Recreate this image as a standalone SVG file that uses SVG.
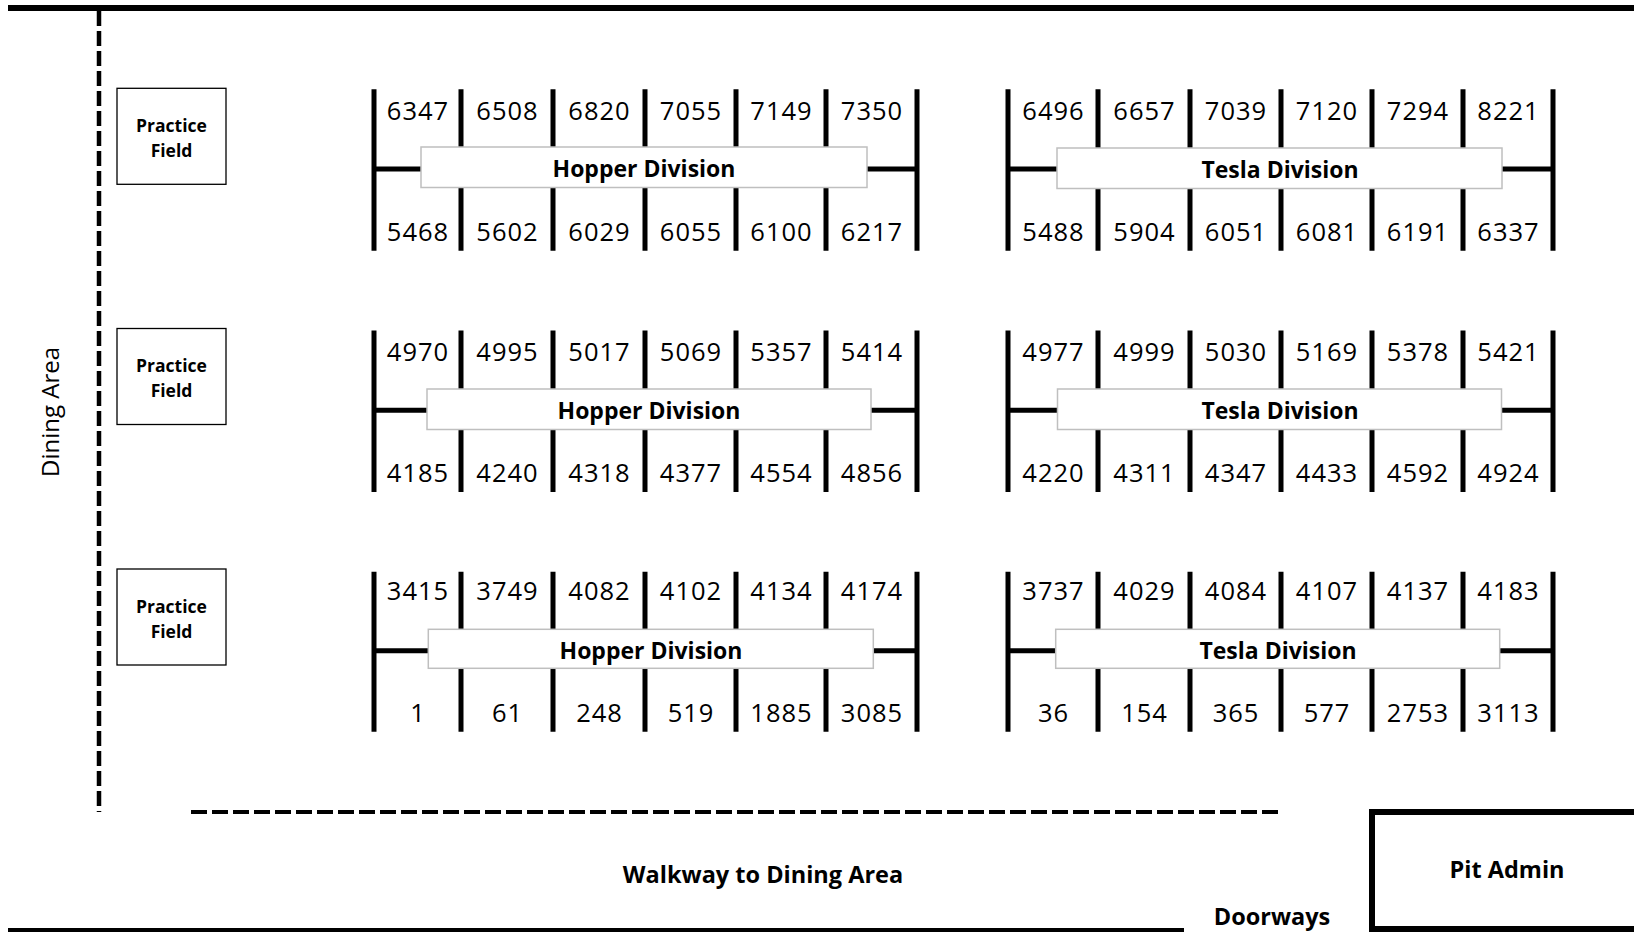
<svg xmlns="http://www.w3.org/2000/svg" width="1634" height="932" viewBox="0 0 1634 932">
<style>
.num{font-family:"Open Sans","Liberation Sans",sans-serif;font-size:25.5px;letter-spacing:1px;fill:#000;text-anchor:middle}
.lbl{font-family:"Open Sans","Liberation Sans",sans-serif;font-weight:bold;font-size:23px;fill:#000;text-anchor:middle}
.pf{font-family:"Open Sans","Liberation Sans",sans-serif;font-weight:bold;font-size:17.5px;fill:#000;text-anchor:middle}
.big{font-family:"Open Sans","Liberation Sans",sans-serif;font-weight:bold;font-size:23.5px;fill:#000;text-anchor:middle}
.side{font-family:"Open Sans","Liberation Sans",sans-serif;font-size:24px;fill:#000;text-anchor:middle}
.bar{stroke:#000;stroke-width:5;fill:none}
.box{fill:#fff;stroke:#bfbfbf;stroke-width:1.5}
.pfbox{fill:#fff;stroke:#000;stroke-width:1.3}
</style>
<rect width="1634" height="932" fill="#fff"/>
<g id="walls">
<line x1="8" y1="8" x2="1634" y2="8" stroke="#000" stroke-width="6"/>
<line x1="99" y1="11" x2="99" y2="812" stroke="#000" stroke-width="4.5" stroke-dasharray="15 5"/>
<line x1="191" y1="812" x2="1279" y2="812" stroke="#000" stroke-width="4" stroke-dasharray="16 5"/>
<line x1="8" y1="930" x2="1184" y2="930" stroke="#000" stroke-width="4"/>
</g>
<g id="dining-area"><text class="side" transform="translate(59,412) rotate(-90)">Dining Area</text></g>
<g id="walkway"><text class="big" x="763" y="883">Walkway to Dining Area</text></g>
<g id="doorways"><text class="big" x="1272" y="925">Doorways</text></g>
<g id="pit-admin"><rect x="1372" y="812" width="300" height="117" fill="#fff" stroke="#000" stroke-width="6"/><text class="big" x="1507" y="878">Pit Admin</text></g>
<g id="practice-field-1"><rect class="pfbox" x="117" y="88.3" width="109" height="96"/><text class="pf" x="171.5" y="131.7">Practice</text><text class="pf" x="171.5" y="156.7">Field</text></g>
<g id="practice-field-2"><rect class="pfbox" x="117" y="328.5" width="109" height="96"/><text class="pf" x="171.5" y="372">Practice</text><text class="pf" x="171.5" y="397">Field</text></g>
<g id="practice-field-3"><rect class="pfbox" x="117" y="569" width="109" height="96"/><text class="pf" x="171.5" y="612.5">Practice</text><text class="pf" x="171.5" y="637.5">Field</text></g>

<g id="connectors">
<path class="bar" d="M374 89.3V250.7M461 89.3V250.7M553 89.3V250.7M645 89.3V250.7M736 89.3V250.7M826 89.3V250.7M917 89.3V250.7M374 169H917"/>
<path class="bar" d="M1008 89.3V250.7M1098 89.3V250.7M1190 89.3V250.7M1281 89.3V250.7M1372 89.3V250.7M1463 89.3V250.7M1553 89.3V250.7M1008 169H1553"/>
<path class="bar" d="M374 330.5V491.9M461 330.5V491.9M553 330.5V491.9M645 330.5V491.9M736 330.5V491.9M826 330.5V491.9M917 330.5V491.9M374 410.2H917"/>
<path class="bar" d="M1008 330.5V491.9M1098 330.5V491.9M1190 330.5V491.9M1281 330.5V491.9M1372 330.5V491.9M1463 330.5V491.9M1553 330.5V491.9M1008 410.2H1553"/>
<path class="bar" d="M374 571.7V731.7M461 571.7V731.7M553 571.7V731.7M645 571.7V731.7M736 571.7V731.7M826 571.7V731.7M917 571.7V731.7M374 650.7H917"/>
<path class="bar" d="M1008 571.7V731.7M1098 571.7V731.7M1190 571.7V731.7M1281 571.7V731.7M1372 571.7V731.7M1463 571.7V731.7M1553 571.7V731.7M1008 650.7H1553"/>
</g>

<g id="hopper-1">
<rect class="box" x="421" y="147" width="446" height="40.5"/><text class="lbl" x="644" y="177">Hopper Division</text>
<text class="num" y="120"><tspan x="418">6347</tspan><tspan x="507.5">6508</tspan><tspan x="599.5">6820</tspan><tspan x="691">7055</tspan><tspan x="781.5">7149</tspan><tspan x="872">7350</tspan></text>
<text class="num" y="240.5"><tspan x="418">5468</tspan><tspan x="507.5">5602</tspan><tspan x="599.5">6029</tspan><tspan x="691">6055</tspan><tspan x="781.5">6100</tspan><tspan x="872">6217</tspan></text>
</g>
<g id="tesla-1">
<rect class="box" x="1057" y="148" width="445" height="40.5"/><text class="lbl" x="1280" y="177.7">Tesla Division</text>
<text class="num" y="120"><tspan x="1053.5">6496</tspan><tspan x="1144.5">6657</tspan><tspan x="1236">7039</tspan><tspan x="1327">7120</tspan><tspan x="1418">7294</tspan><tspan x="1508.5">8221</tspan></text>
<text class="num" y="240.5"><tspan x="1053.5">5488</tspan><tspan x="1144.5">5904</tspan><tspan x="1236">6051</tspan><tspan x="1327">6081</tspan><tspan x="1418">6191</tspan><tspan x="1508.5">6337</tspan></text>
</g>
<g id="hopper-2">
<rect class="box" x="427" y="389" width="444" height="40.5"/><text class="lbl" x="649" y="418.8">Hopper Division</text>
<text class="num" y="361.2"><tspan x="418">4970</tspan><tspan x="507.5">4995</tspan><tspan x="599.5">5017</tspan><tspan x="691">5069</tspan><tspan x="781.5">5357</tspan><tspan x="872">5414</tspan></text>
<text class="num" y="481.5"><tspan x="418">4185</tspan><tspan x="507.5">4240</tspan><tspan x="599.5">4318</tspan><tspan x="691">4377</tspan><tspan x="781.5">4554</tspan><tspan x="872">4856</tspan></text>
</g>
<g id="tesla-2">
<rect class="box" x="1057.5" y="389" width="444" height="40.5"/><text class="lbl" x="1280" y="418.8">Tesla Division</text>
<text class="num" y="361.2"><tspan x="1053.5">4977</tspan><tspan x="1144.5">4999</tspan><tspan x="1236">5030</tspan><tspan x="1327">5169</tspan><tspan x="1418">5378</tspan><tspan x="1508.5">5421</tspan></text>
<text class="num" y="481.5"><tspan x="1053.5">4220</tspan><tspan x="1144.5">4311</tspan><tspan x="1236">4347</tspan><tspan x="1327">4433</tspan><tspan x="1418">4592</tspan><tspan x="1508.5">4924</tspan></text>
</g>
<g id="hopper-3">
<rect class="box" x="428.3" y="629.3" width="445" height="39"/><text class="lbl" x="651" y="659">Hopper Division</text>
<text class="num" y="600"><tspan x="418">3415</tspan><tspan x="507.5">3749</tspan><tspan x="599.5">4082</tspan><tspan x="691">4102</tspan><tspan x="781.5">4134</tspan><tspan x="872">4174</tspan></text>
<text class="num" y="721.7"><tspan x="418">1</tspan><tspan x="507.5">61</tspan><tspan x="599.5">248</tspan><tspan x="691">519</tspan><tspan x="781.5">1885</tspan><tspan x="872">3085</tspan></text>
</g>
<g id="tesla-3">
<rect class="box" x="1055.7" y="629.3" width="444" height="39"/><text class="lbl" x="1278" y="659">Tesla Division</text>
<text class="num" y="600"><tspan x="1053.5">3737</tspan><tspan x="1144.5">4029</tspan><tspan x="1236">4084</tspan><tspan x="1327">4107</tspan><tspan x="1418">4137</tspan><tspan x="1508.5">4183</tspan></text>
<text class="num" y="721.7"><tspan x="1053.5">36</tspan><tspan x="1144.5">154</tspan><tspan x="1236">365</tspan><tspan x="1327">577</tspan><tspan x="1418">2753</tspan><tspan x="1508.5">3113</tspan></text>
</g>
</svg>
